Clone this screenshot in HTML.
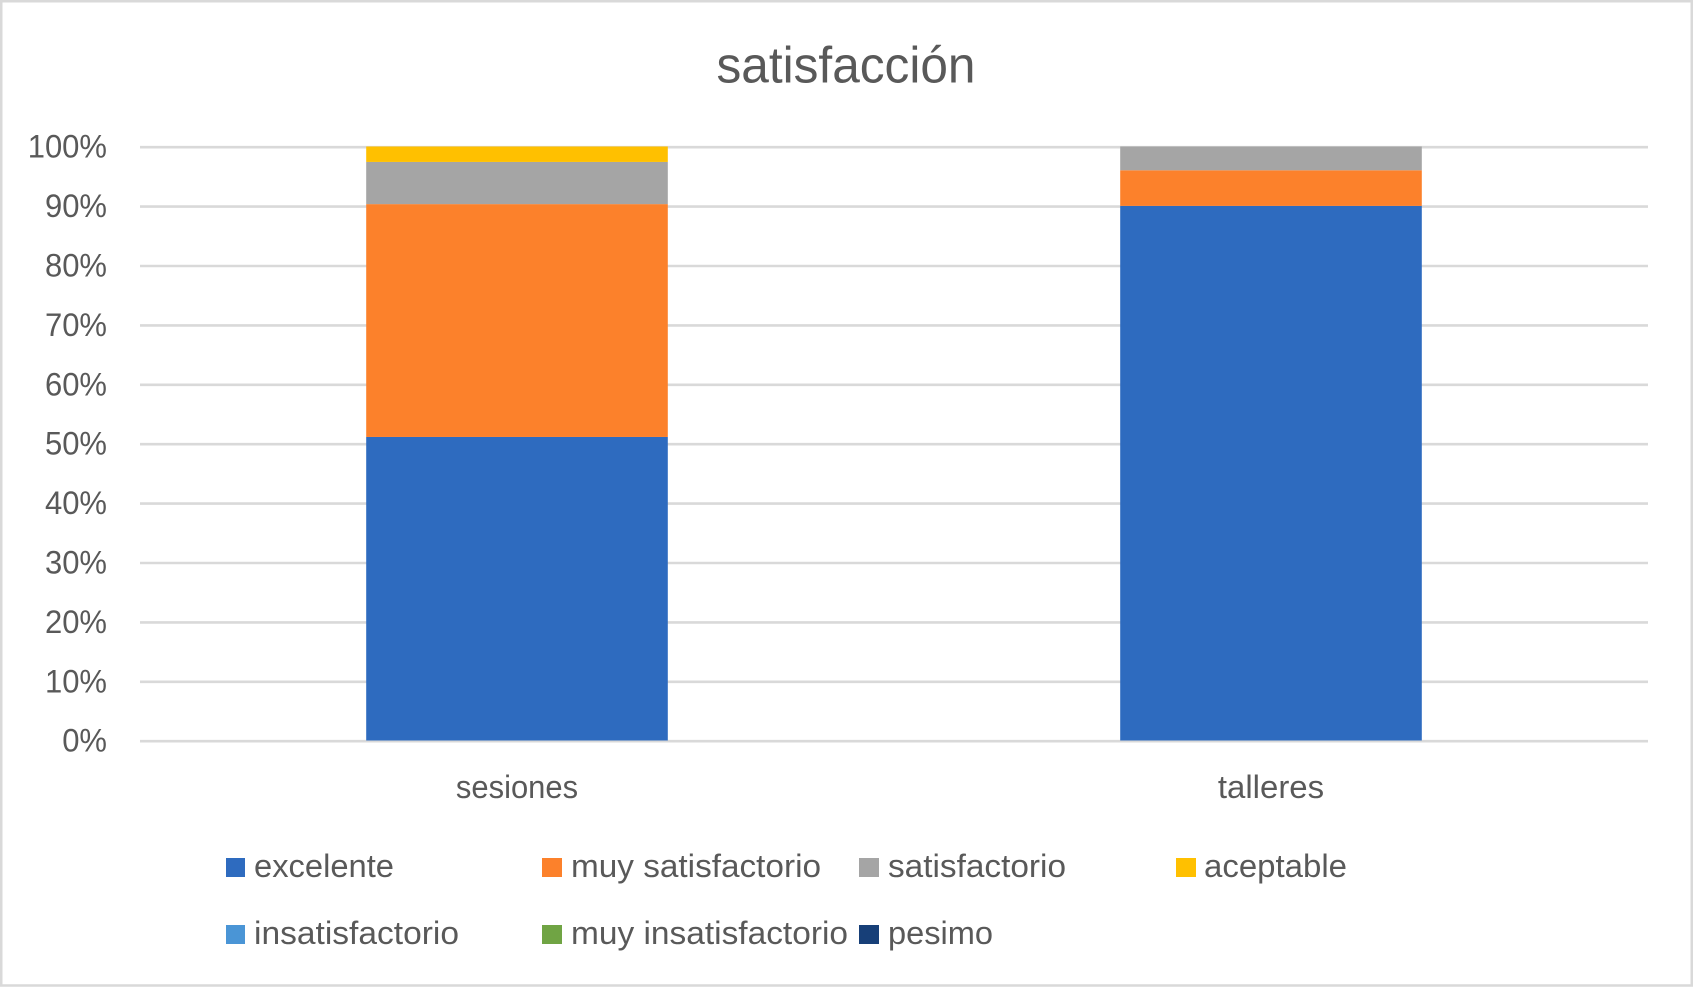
<!DOCTYPE html>
<html lang="es">
<head>
<meta charset="utf-8">
<title>satisfacción</title>
<style>
  html, body { margin: 0; padding: 0; background: #fff; }
  svg { display: block; font-family: "Liberation Sans", sans-serif; }
  text { fill: #595959; }
</style>
</head>
<body>
<svg id="chart" xmlns="http://www.w3.org/2000/svg" width="1693" height="990" viewBox="0 0 1693 990">
  <rect x="1.25" y="1.25" width="1690.5" height="984.25" fill="#fff" stroke="#d9d9d9" stroke-width="2.5"/>
  <text x="716.5" y="82.7" font-size="51" textLength="259" lengthAdjust="spacingAndGlyphs">satisfacción</text>
  <g id="grid"></g>
  <g id="yticks"></g>
  <g id="bars"></g>
  <g id="xticks"></g>
  <g font-size="32">
    <g>
      <rect x="226" y="858" width="19" height="19" fill="#2e6bbf"/>
      <text x="254" y="877" textLength="140" lengthAdjust="spacingAndGlyphs">excelente</text>
    </g>
    <g>
      <rect x="542" y="858" width="20" height="19" fill="#fc812b"/>
      <text x="571" y="877" textLength="250" lengthAdjust="spacingAndGlyphs">muy satisfactorio</text>
    </g>
    <g>
      <rect x="859" y="858" width="20" height="19" fill="#a5a5a5"/>
      <text x="888" y="877" textLength="178" lengthAdjust="spacingAndGlyphs">satisfactorio</text>
    </g>
    <g>
      <rect x="1176" y="858" width="20" height="19" fill="#ffc000"/>
      <text x="1204" y="877" textLength="143" lengthAdjust="spacingAndGlyphs">aceptable</text>
    </g>
    <g>
      <rect x="226" y="925" width="19" height="19" fill="#4a95d6"/>
      <text x="254" y="944" textLength="205" lengthAdjust="spacingAndGlyphs">insatisfactorio</text>
    </g>
    <g>
      <rect x="542" y="925" width="20" height="19" fill="#70a444"/>
      <text x="571" y="944" textLength="277" lengthAdjust="spacingAndGlyphs">muy insatisfactorio</text>
    </g>
    <g>
      <rect x="859" y="925" width="20" height="19" fill="#173f78"/>
      <text x="888" y="944" textLength="105" lengthAdjust="spacingAndGlyphs">pesimo</text>
    </g>
  </g>
</svg>
<script>
const categories = ["sesiones", "talleres"];
const tickValues = [0, 10, 20, 30, 40, 50, 60, 70, 80, 90, 100];
const tickLabels = ["0%", "10%", "20%", "30%", "40%", "50%", "60%", "70%", "80%", "90%", "100%"];
const excelente = [51.1, 90];
const muySatisfactorio = [39.2, 6];
const satisfactorio = [7.1, 4];
const aceptable = [2.6, 0];
const insatisfactorio = [0, 0];
const muyInsatisfactorio = [0, 0];
const pesimo = [0, 0];

const seriesKeys = ["excelente", "muy-satisfactorio", "satisfactorio", "aceptable", "insatisfactorio", "muy-insatisfactorio", "pesimo"];
const seriesValues = [excelente, muySatisfactorio, satisfactorio, aceptable, insatisfactorio, muyInsatisfactorio, pesimo];
const seriesColors = ["#2e6bbf", "#fc812b", "#a5a5a5", "#ffc000", "#4a95d6", "#70a444", "#173f78"];

const NS = "http://www.w3.org/2000/svg";
const plotLeft = 140, plotRight = 1648, plotBottom = 740.5, plotHeight = 594;
const bandWidth = (plotRight - plotLeft) / categories.length;
const barWidth = bandWidth / 2.5;
const categoryLabelWidthRatio = { "sesiones": 0.967, "talleres": 1.03 };

function yScale(pct) { return plotBottom - (pct / 100) * plotHeight; }
function xCenter(i) { return plotLeft + bandWidth * (i + 0.5); }

const grid = document.getElementById("grid");
const yticks = document.getElementById("yticks");
tickValues.forEach(function (v, i) {
  const y = yScale(v) + 0.7;
  const line = document.createElementNS(NS, "line");
  
  
  line.setAttribute("x1", plotLeft);
  line.setAttribute("x2", plotRight);
  line.setAttribute("y1", y);
  line.setAttribute("y2", y);
  line.setAttribute("stroke", "#d9d9d9");
  line.setAttribute("stroke-width", "2.6");
  grid.appendChild(line);

  const label = document.createElementNS(NS, "text");
  
  
  label.setAttribute("x", 107);
  label.setAttribute("y", y + 10.5);
  label.setAttribute("font-size", "32");
  label.setAttribute("text-anchor", "end");
  label.textContent = tickLabels[i];
  yticks.appendChild(label);
  label.setAttribute("lengthAdjust", "spacingAndGlyphs");
  label.setAttribute("textLength", label.getComputedTextLength() * 31 / 32);
});

const bars = document.getElementById("bars");
const xticks = document.getElementById("xticks");
categories.forEach(function (cat, c) {
  const total = seriesValues.reduce(function (sum, s) { return sum + s[c]; }, 0) || 1;
  let acc = 0;
  seriesValues.forEach(function (s, k) {
    const pctStart = acc / total * 100;
    acc += s[c];
    const pctEnd = acc / total * 100;
    const seg = document.createElementNS(NS, "rect");
    
    
    seg.setAttribute("x", xCenter(c) - barWidth / 2);
    seg.setAttribute("width", barWidth);
    seg.setAttribute("y", yScale(pctEnd));
    seg.setAttribute("height", yScale(pctStart) - yScale(pctEnd));
    seg.setAttribute("fill", seriesColors[k]);
    bars.appendChild(seg);
  });

  const label = document.createElementNS(NS, "text");
  
  
  label.setAttribute("x", xCenter(c));
  label.setAttribute("y", 798);
  label.setAttribute("font-size", "32");
  label.setAttribute("text-anchor", "middle");
  label.textContent = cat;
  xticks.appendChild(label);
  label.setAttribute("lengthAdjust", "spacingAndGlyphs");
  label.setAttribute("textLength", label.getComputedTextLength() * (categoryLabelWidthRatio[cat] || 1));
});
</script>
</body>
</html>
